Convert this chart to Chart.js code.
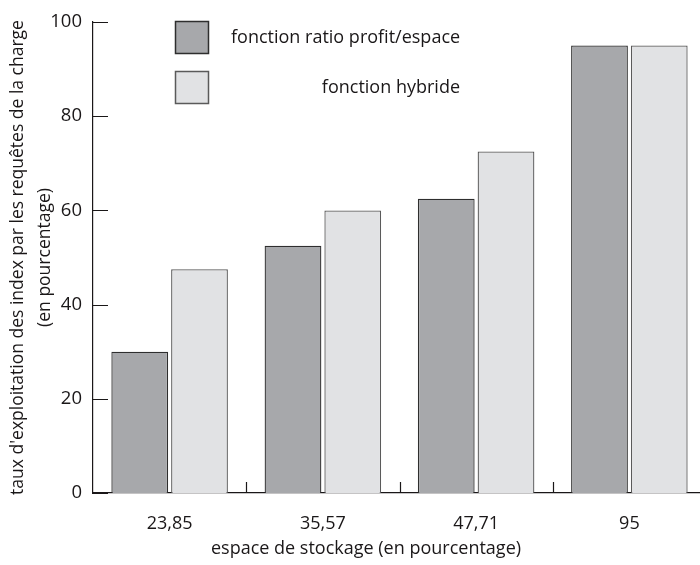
<!DOCTYPE html>
<html>
<head>
<meta charset="utf-8">
<script src="https://cdn.jsdelivr.net/npm/chart.js@4"></script>
<style>
  html, body { margin: 0; padding: 0; background: #fff; }
  #wrap { width: 700px; height: 565px; position: relative; }
</style>
</head>
<body>
<div id="wrap"><canvas id="chart"></canvas></div>
<script>
// data
const categories = ["23,85", "35,57", "47,71", "95"];
const ratioValues = [30, 52.5, 62.5, 95];
const hybridValues = [47.5, 60, 72.5, 95];
const seriesNames = ["fonction ratio profit/espace", "fonction hybride"];
const yTicks = [0, 20, 40, 60, 80, 100];
const xTitle = "espace de stockage (en pourcentage)";

const INK = "#1a1718";
const FONT = "'Open Sans', 'Noto Sans', sans-serif";

// inward ticks on both axes, the boxed legend and the x title
const decorations = {
  id: "decorations",
  afterLayout(chart) {
    // the original x axis runs a little past the right edge of the figure
    const xs = chart.scales.x;
    xs.right = xs.right + 6;
    xs.width = xs.right - xs.left;
    xs.configure();
  },
  afterDraw(chart) {
    const { ctx, chartArea } = chart;
    const xs = chart.scales.x, ys = chart.scales.y;
    ctx.save();
    ctx.strokeStyle = INK;
    ctx.lineWidth = 1.2;
    ctx.beginPath();
    yTicks.forEach(v => {
      const py = Math.round(ys.getPixelForValue(v)) + 0.5;
      ctx.moveTo(chartArea.left, py);
      ctx.lineTo(chartArea.left + 15, py);
    });
    for (let i = 0; i < categories.length - 1; i++) {
      const px = Math.round((xs.getPixelForValue(i) + xs.getPixelForValue(i + 1)) / 2) + 0.5;
      ctx.moveTo(px, chartArea.bottom);
      ctx.lineTo(px, chartArea.bottom - 11);
    }
    ctx.stroke();

    // x title, centred under the figure rather than the axis
    ctx.fillStyle = INK;
    ctx.font = "18px " + FONT;
    ctx.textAlign = "center";
    ctx.textBaseline = "middle";
    ctx.fillText(xTitle, 366, 549);

    // legend
    const ds = chart.data.datasets;
    const boxes = [{ y: 21, textX: 231, align: "left" }, { y: 71, textX: 460, align: "right" }];
    boxes.forEach((b, i) => {
      ctx.fillStyle = ds[i].backgroundColor;
      ctx.fillRect(175, b.y, 34, 33);
      ctx.strokeStyle = ds[i].borderColor;
      ctx.lineWidth = 1.5;
      ctx.strokeRect(175.5, b.y + 0.5, 33, 32);
      ctx.fillStyle = INK;
      ctx.textAlign = b.align;
      ctx.fillText(ds[i].label, b.textX, b.y + 17);
    });
    ctx.restore();
  }
};

new Chart(document.getElementById("chart"), {
  type: "bar",
  data: {
    labels: categories,
    datasets: [
      {
        label: seriesNames[0],
        data: ratioValues,
        backgroundColor: "#a7a8ab",
        borderColor: "#2e2e2e",
        borderWidth: 1.3,
        categoryPercentage: 0.78,
        barPercentage: 0.95
      },
      {
        label: seriesNames[1],
        data: hybridValues,
        backgroundColor: "#e1e2e4",
        borderColor: "#5a5a5a",
        borderWidth: 1.3,
        categoryPercentage: 0.78,
        barPercentage: 0.95
      }
    ]
  },
  options: {
    responsive: true,
    maintainAspectRatio: false,
    animation: false,
    layout: { padding: { top: 22, right: 0, left: 0, bottom: 0 } },
    plugins: { legend: { display: false }, tooltip: { enabled: false } },
    scales: {
      x: {
        grid: { display: false },
        border: { display: true, color: INK, width: 1.2 },
        ticks: { color: INK, font: { family: FONT, size: 18 }, padding: 12 },
        afterFit: s => { s.height = 72; }
      },
      y: {
        min: 0,
        max: 100,
        afterBuildTicks: s => { s.ticks = yTicks.map(v => ({ value: v })); },
        grid: { display: false },
        border: { display: true, color: INK, width: 1.2 },
        ticks: { color: INK, font: { family: FONT, size: 18.5 }, padding: 3 },
        title: {
          display: true,
          text: ["taux d'exploitation des index par les requêtes de la charge", "(en pourcentage)"],
          color: INK,
          font: { family: FONT, size: 17.5, lineHeight: 1.55 },
          padding: { top: 4, bottom: 0 }
        },
        afterFit: s => { s.width = 93; }
      }
    }
  },
  plugins: [decorations]
});
</script>
</body>
</html>
